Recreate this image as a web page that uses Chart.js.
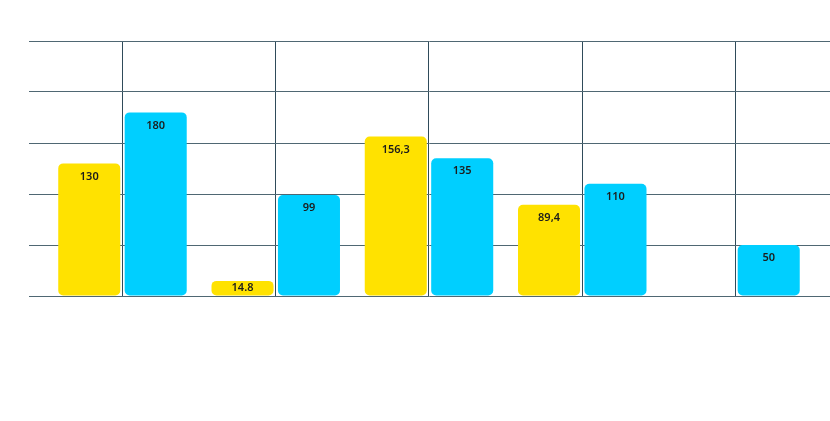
<!DOCTYPE html>
<html>
<head>
<meta charset="utf-8">
<script src="https://cdn.jsdelivr.net/npm/chart.js@4"></script>
<style>
  html, body { margin: 0; padding: 0; background: #fff; }
  #wrap { width: 830px; height: 421px; }
</style>
</head>
<body>
<div id="wrap"><canvas id="myChart" width="830" height="421"></canvas></div>
<script>
// dados
var categorias = ['1', '2', '3', '4', '5'];
var valores_amarelo = [130, 14.8, 156.3, 89.4, null];
var valores_azul = [180, 99, 135, 110, 50];
var textos_amarelo = ['130', '14.8', '156,3', '89,4', ''];
var textos_azul = ['180', '99', '135', '110', '50'];
var ticks_y = [0, 50, 100, 150, 200, 250];

function pontos(valores) {
    return valores.map((v, i) => ({ x: i, y: v }));
}

// escreve o valor dentro da barra, perto do topo
var rotulos = {
    id: 'rotulos',
    afterDatasetsDraw(chart) {
        let ctx = chart.ctx;
        let textos = [textos_amarelo, textos_azul];
        ctx.save();
        ctx.font = '600 11px "Noto Sans"';
        ctx.fillStyle = '#1c1c1c';
        ctx.textAlign = 'center';
        ctx.textBaseline = 'middle';
        chart.data.datasets.forEach((ds, d) => {
            chart.getDatasetMeta(d).data.forEach((bar, i) => {
                let t = textos[d][i];
                if (!t || ds.data[i].y == null) return;
                let y = Math.min(bar.y + 13, (bar.y + bar.base) / 2);
                ctx.fillText(t, bar.x, y);
            });
        });
        ctx.restore();
    }
};

var ctx = document.getElementById('myChart').getContext('2d');
var grafico = new Chart(ctx, {
    type: 'bar',
    data: {
        datasets: [{
            label: 'Amarelo',
            data: pontos(valores_amarelo),
            backgroundColor: '#FFE200',
            borderRadius: 5,
            borderSkipped: false
        }, {
            label: 'Azul',
            data: pontos(valores_azul),
            backgroundColor: '#00CFFF',
            borderRadius: 5,
            borderSkipped: false
        }]
    },
    options: {
        responsive: false,
        animation: false,
        categoryPercentage: 0.867,
        barPercentage: 0.934,
        layout: { padding: { left: 29, right: 0, top: 41, bottom: 125 } },
        plugins: {
            legend: { display: false },
            tooltip: {
                callbacks: {
                    title: (items) => categorias[items[0].parsed.x]
                }
            }
        },
        scales: {
            x: {
                type: 'linear',
                bounds: 'data',
                offset: false,
                min: -0.61,
                max: 4.6166,
                afterBuildTicks: (axis) => { axis.ticks = categorias.map((c, i) => ({ value: i })); },
                ticks: { display: false },
                grid: { offset: false, color: '#2f4b5a', lineWidth: 1, drawTicks: false },
                border: { display: false }
            },
            y: {
                min: ticks_y[0],
                max: ticks_y[ticks_y.length - 1],
                afterBuildTicks: (axis) => { axis.ticks = ticks_y.map(v => ({ value: v })); },
                ticks: { display: false },
                grid: { color: '#4f6773', lineWidth: 1, drawTicks: false },
                border: { display: false }
            }
        }
    },
    plugins: [rotulos]
});
</script>
</body>
</html>
